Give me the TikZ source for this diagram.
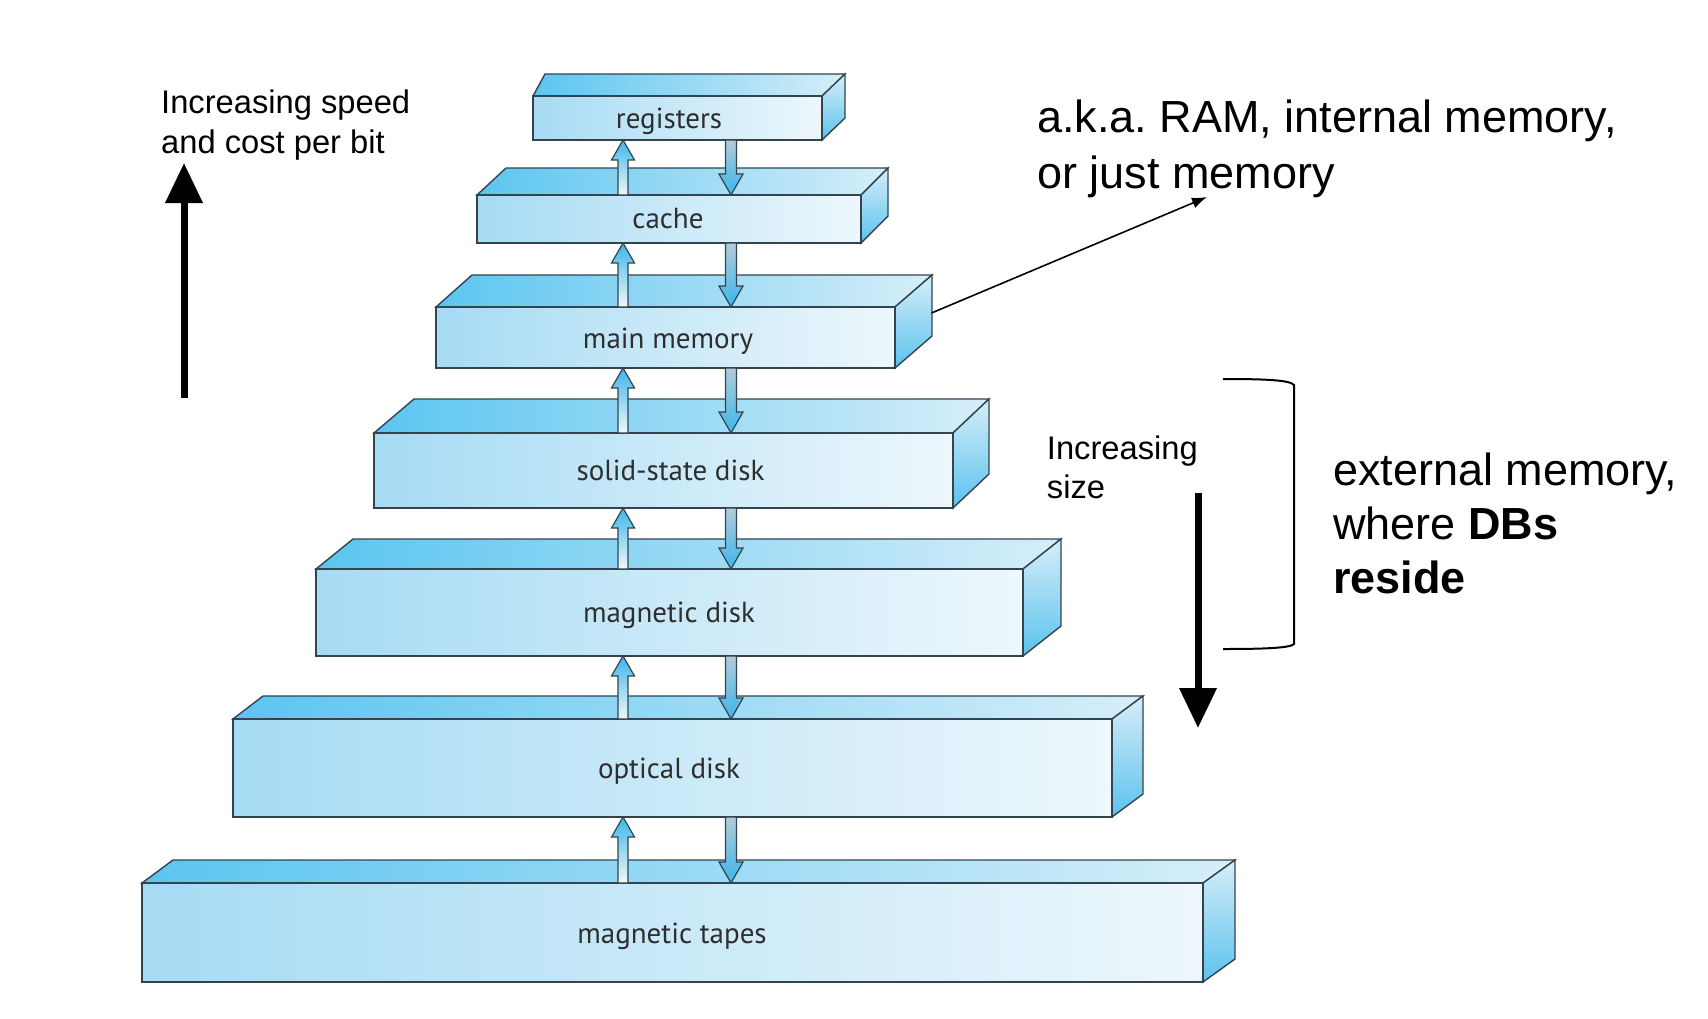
\documentclass[tikz,border=0pt]{standalone}
\usepackage{fontspec}
\setmainfont{Liberation Sans}
\newfontfamily\blkfont{PT Sans}
\usetikzlibrary{arrows.meta,calc}
\frenchspacing
\definecolor{edgec}{HTML}{33444E}
\definecolor{frontL}{HTML}{A6DBF4}
\definecolor{frontR}{HTML}{EDF7FC}
\definecolor{topL}{HTML}{5BC5F0}
\definecolor{topR}{HTML}{D6EEF9}
\definecolor{sideT}{HTML}{D6EEF9}
\definecolor{sideB}{HTML}{5BC2EE}
\definecolor{arrB}{HTML}{3DB6EA}
\definecolor{arrL}{HTML}{EEF8FC}
\definecolor{arrD}{HTML}{B0CBD9}
\definecolor{labelc}{HTML}{2E2E2E}
\tikzset{
  topface/.style={draw=edgec, line width=1.4pt, left color=topL, right color=topR},
  sideface/.style={draw=edgec, line width=1.4pt, top color=sideT, bottom color=sideB},
  frontface/.style={draw=edgec, line width=1.4pt, left color=frontL, right color=frontR,
    inner sep=0pt, outer sep=0pt, rectangle},
  blklabel/.style={font=\blkfont\fontsize{29}{29}\selectfont, text=labelc, inner sep=0pt, anchor=base},
  uparr/.style={draw=edgec, line width=1.2pt, top color=arrB, bottom color=arrL},
  downarr/.style={draw=edgec, line width=1.2pt, top color=arrD, bottom color=arrB},
  annot/.style={font=\fontsize{45}{45}\selectfont, inner sep=0pt, anchor=base west},
  small/.style={font=\fontsize{32.7}{32.7}\selectfont, inner sep=0pt, anchor=base west},
  bigarrow/.style={line width=7pt, -{Triangle[width=36pt,length=40pt]}}
}
% #1 name, #2 L, #3 R, #4 T, #5 B, #6 dxL, #7 dxR, #8 dy
\newcommand\memblk[8]{%
  \path[topface] (#2,-#4) -- ++(#6,#8) -- ({#3+#7},{-#4+#8}) -- (#3,-#4) -- cycle;
  \path[sideface] (#3,-#4) -- ({#3+#7},{-#4+#8}) -- ({#3+#7},{-#5+#8}) -- (#3,-#5) -- cycle;
  \node[frontface, minimum width={(#3-#2)*1pt}, minimum height={(#5-#4)*1pt}] (#1) at ({(#2+#3)/2},{-(#4+#5)/2}) {};
}
% #1 upper block, #2 lower block
\newcommand\updown[2]{%
  \path[uparr] let \p1=(#2.north), \p2=(#1.south) in
    (618pt,\y1) -- (618pt,\y2-20pt) -- (611.5pt,\y2-20pt) -- (623pt,\y2) -- (634.5pt,\y2-20pt) -- (628pt,\y2-20pt) -- (628pt,\y1) -- cycle;
  \path[downarr] let \p1=(#2.north), \p2=(#1.south) in
    (725.5pt,\y2) -- (725.5pt,\y1+21pt) -- (719pt,\y1+21pt) -- (731pt,\y1) -- (743pt,\y1+21pt) -- (736.5pt,\y1+21pt) -- (736.5pt,\y2) -- cycle;
}
\begin{document}
\begin{tikzpicture}[x=1pt,y=1pt]
\path[fill=white] (0,0) rectangle (1708,-1018);
\useasboundingbox (0,0) rectangle (1708,-1018);

\memblk{reg}{533}{822}{96}{140}{12}{23}{22}
\memblk{cache}{477}{861}{195}{243}{29}{27}{27}
\memblk{mm}{436}{895}{307}{368}{36}{37}{32}
\memblk{ssd}{374}{953}{433}{508}{40}{36}{34}
\memblk{mdisk}{316}{1023}{569}{656}{37}{38}{30}
\memblk{odisk}{233}{1112}{719}{817}{30}{31}{23}
\memblk{tapes}{142}{1203}{883}{982}{31}{32}{23}

\node[blklabel] (reg-l) at (669,-128) {registers};
\node[blklabel] (cache-l) at (668,-228) {cache};
\node[blklabel] (mm-l) at (668,-348) {main memory};
\node[blklabel] (ssd-l) at (670.5,-480) {solid-state disk};
\node[blklabel] (mdisk-l) at (669,-622) {magnetic disk};
\node[blklabel] (odisk-l) at (669,-778) {optical disk};
\node[blklabel] (tapes-l) at (672,-943) {magnetic tapes};

\updown{reg}{cache}
\updown{cache}{mm}
\updown{mm}{ssd}
\updown{ssd}{mdisk}
\updown{mdisk}{odisk}
\updown{odisk}{tapes}

% left speed arrow
\coordinate (spd-base) at (184,-398);
\coordinate (spd-tip) at (184,-163);
\draw[bigarrow] (spd-base) -- (spd-tip);
\node[small] (spd1) at (161,-113.5) {Increasing speed};
\node[small] (spd2) at (161,-153.5) {and cost per bit};

% right size arrow
\coordinate (sz-top) at (1198,-493);
\coordinate (sz-tip) at (1198,-728);
\draw[bigarrow] (sz-top) -- (sz-tip);
\node[small] (sz1) at (1046.7,-459) {Increasing};
\node[small] (sz2) at (1046.7,-498) {size};

% pointer from main memory
\coordinate (mm-side) at (931.5,-313);
\coordinate (aka-tip) at (1207,-197);
\draw[line width=1.6pt, -{Latex[length=15pt,width=11pt]}] (mm-side) -- (aka-tip);
\node[annot] (aka1) at (1037,-132.5) {a.k.a. RAM, internal memory,};
\node[annot] (aka2) at (1037,-188.5) {or just memory};

% bracket
\coordinate (br-a) at (1223,-379);
\coordinate (br-b) at (1223,-649);
\draw[line width=2pt] (br-a) .. controls (1265,-379) and (1290,-380) .. (1294,-385)
  -- (1294,-644) .. controls (1290,-648) and (1265,-649) .. (br-b);
\node[annot] (ext1) at (1333,-485) {external memory,};
\node[annot] (ext2) at (1333,-539) {where \textbf{DBs}};
\node[annot] (ext3) at (1333,-593) {\textbf{reside}};
\end{tikzpicture}
\end{document}
